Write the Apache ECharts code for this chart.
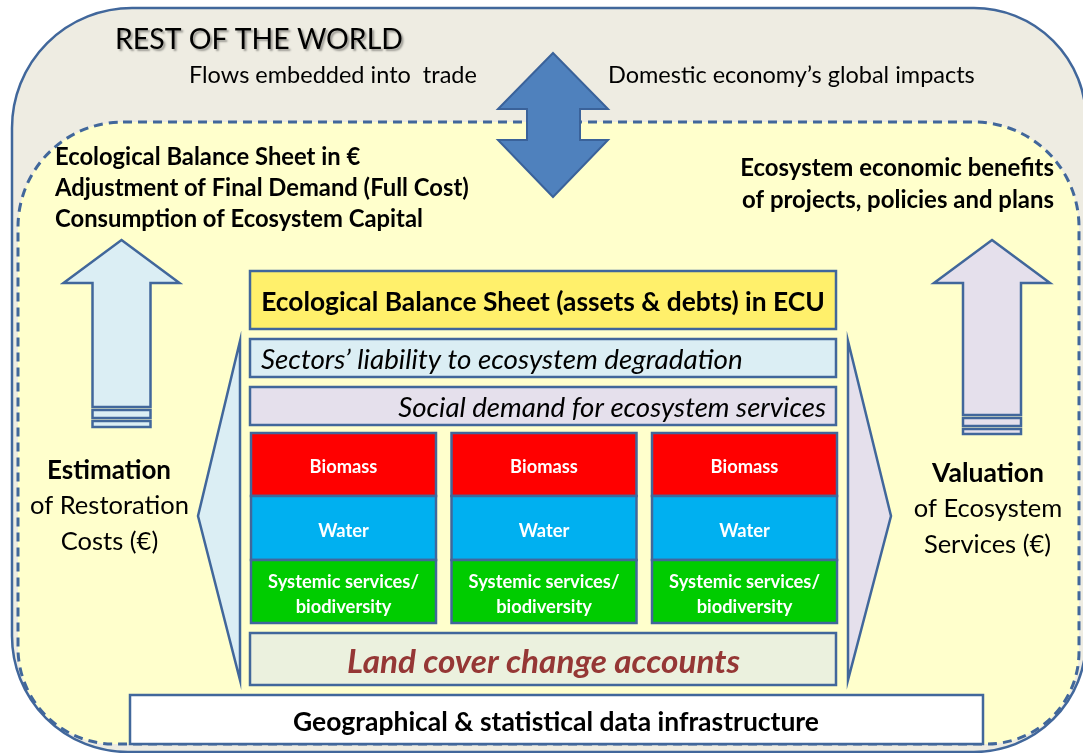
<!DOCTYPE html>
<html><head><meta charset="utf-8">
<script src="https://cdn.jsdelivr.net/npm/echarts@6/dist/echarts.min.js"></script>
<style>html,body{margin:0;padding:0;background:#fff}#c{width:1083px;height:753px}</style>
</head><body><div id="c"></div>
<script>
// ---- content (text) ----
const worldTitle = 'REST OF THE WORLD';
const tradeFlows = ['Flows embedded into  trade', 'Domestic economy\u2019s global impacts'];
const monetaryOutputs = ['Ecological Balance Sheet in \u20ac', 'Adjustment of Final Demand (Full Cost)', 'Consumption of Ecosystem Capital'];
const benefitOutputs = ['Ecosystem economic benefits', 'of projects, policies and plans'];
const restorationLabel = ['Estimation', 'of Restoration', 'Costs (\u20ac)'];
const valuationLabel = ['Valuation', 'of Ecosystem', 'Services (\u20ac)'];
const balanceLayers = ['Ecological Balance Sheet (assets & debts) in ECU', 'Sectors\u2019 liability to ecosystem degradation', 'Social demand for ecosystem services'];
const accountColumns = ['A', 'B', 'C'];
const accountRows = [['Biomass'], ['Water'], ['Systemic services/', 'biodiversity']];
const baseLayers = ['Land cover change accounts', 'Geographical & statistical data infrastructure'];

// ---- layout & style ----
const FONT = 'Lato';
const TEXT_DY = 2;
const C = {
  line: '#41679B', outer: '#EEECE2', inner: '#FFFFCC', arrow: '#4F81BD', arrowLine: '#3A629A',
  yellow: '#FFF06B', blue: '#DBEEF4', lav: '#E5E0EC', land: '#EBF1DE', landText: '#953735',
  cells: ['#FF0000', '#00B0F0', '#00CC00']
};
const ctx = document.createElement('canvas').getContext('2d');
function fit(text, width, weight, style) {
  ctx.font = (style || 'normal') + ' ' + (weight || 'normal') + ' 100px ' + FONT;
  return 100 * width / ctx.measureText(text).width;
}

function renderItem(params, api) {
  const P = (x, y) => api.coord([x, y]);
  const R = (x, y, w, h) => { const a = P(x, y), b = P(x + w, y + h); return { x: a[0], y: a[1], width: b[0] - a[0], height: b[1] - a[1] }; };
  const poly = pts => pts.map(p => P(p[0], p[1]));
  const out = [];
  const T = (s, x, y, size, o) => {
    o = o || {};
    const p = P(x, y + TEXT_DY);
    out.push({ type: 'text', style: Object.assign({
      text: s, x: p[0], y: p[1], fontSize: size, fontFamily: FONT,
      fontWeight: o.weight || 'normal', fontStyle: o.style || 'normal',
      fill: o.fill || '#000', align: o.align || 'left', verticalAlign: 'middle'
    }, o.extra || {}) });
  };
  const box = (x, y, w, h, fill, lw) => out.push({ type: 'rect', shape: R(x, y, w, h), style: { fill: fill, stroke: C.line, lineWidth: lw || 2.5 } });

  // outer world frame
  const o = R(12, 8, 1074, 744);
  out.push({ type: 'rect', shape: Object.assign(o, { r: [120, 112, 112, 116] }), style: { fill: C.outer, stroke: C.line, lineWidth: 2.5 } });
  // inner domestic frame (dashed)
  const i = R(18, 122, 1061, 622);
  out.push({ type: 'rect', shape: Object.assign(i, { r: [105, 105, 92, 96] }), style: { fill: C.inner, stroke: C.line, lineWidth: 3, lineDash: [9, 6] } });

  // title
  T(worldTitle, 115, 38, fit(worldTitle, 288), { extra: { textShadowColor: 'rgba(0,0,0,0.35)', textShadowBlur: 2, textShadowOffsetX: 2, textShadowOffsetY: 2 } });
  T(tradeFlows[0], 189, 73, fit(tradeFlows[0], 288));
  T(tradeFlows[1], 608, 73, fit(tradeFlows[1], 367));

  // double arrow
  out.push({ type: 'polygon', shape: { points: poly([[553, 53], [608, 109], [580, 109], [580, 140], [608, 140], [553, 197], [498, 140], [527, 140], [527, 109], [498, 109]]) },
    style: { fill: C.arrow, stroke: C.arrowLine, lineWidth: 2 } });

  // left outputs
  const sL = fit(monetaryOutputs[1], 414, 'bold');
  monetaryOutputs.forEach((s, k) => T(s, 55, 155 + k * 31, sL, { weight: 'bold' }));
  const sR = fit(benefitOutputs[1], 312, 'bold');
  benefitOutputs.forEach((s, k) => T(s, 1054, 166 + k * 32, sR, { weight: 'bold', align: 'right' }));

  // up arrows
  const upArrow = (cx, top, shaftBot, s1, s2, fill) => {
    out.push({ type: 'polygon', shape: { points: poly([[cx, top], [cx + 58, top + 43], [cx + 29, top + 43], [cx + 29, shaftBot], [cx - 29, shaftBot], [cx - 29, top + 43], [cx - 58, top + 43]]) },
      style: { fill: fill, stroke: C.line, lineWidth: 2.5 } });
    out.push({ type: 'rect', shape: R(cx - 29, s1[0], 58, s1[1] - s1[0]), style: { fill: fill, stroke: C.line, lineWidth: 2.5 } });
    out.push({ type: 'rect', shape: R(cx - 29, s2[0], 58, s2[1] - s2[0]), style: { fill: fill, stroke: C.line, lineWidth: 2.5 } });
  };
  upArrow(121.5, 240, 407, [410, 418], [421, 427], C.blue);
  upArrow(992, 240, 415, [418, 426], [429, 434], C.lav);

  // method texts
  T(restorationLabel[0], 109, 469, fit(restorationLabel[0], 124, 'bold'), { weight: 'bold', align: 'center' });
  const sM = fit(restorationLabel[1], 159);
  T(restorationLabel[1], 109.5, 504, sM, { align: 'center' });
  T(restorationLabel[2], 109.5, 540, sM, { align: 'center' });
  T(valuationLabel[0], 988, 471, fit(valuationLabel[0], 112, 'bold'), { weight: 'bold', align: 'center' });
  T(valuationLabel[1], 988, 507, sM, { align: 'center' });
  T(valuationLabel[2], 987.5, 543, sM, { align: 'center' });

  // side callouts
  out.push({ type: 'polygon', shape: { points: poly([[240, 341], [198, 516], [240, 680]]) }, style: { fill: C.blue, stroke: C.line, lineWidth: 2.5 } });
  out.push({ type: 'polygon', shape: { points: poly([[848, 341], [891, 516], [848, 680]]) }, style: { fill: C.lav, stroke: C.line, lineWidth: 2.5 } });

  // balance layers
  box(250, 271, 586, 58, C.yellow);
  T(balanceLayers[0], 543, 300, fit(balanceLayers[0], 564, 'bold'), { weight: 'bold', align: 'center' });
  box(250, 339, 586, 38, C.blue);
  T(balanceLayers[1], 261, 358, fit(balanceLayers[1], 482, 'normal', 'italic'), { style: 'italic' });
  box(250, 387, 586, 38, C.lav);
  T(balanceLayers[2], 826, 406, fit(balanceLayers[2], 428, 'normal', 'italic'), { style: 'italic', align: 'right' });

  // account columns
  const rowY = [433, 496, 560, 623];
  const sC = fit(accountRows[2][0], 151, 'bold');
  accountColumns.forEach((c, ci) => {
    const x0 = 251 + ci * 200.5, w = 185;
    accountRows.forEach((lines, ri) => {
      box(x0, rowY[ri], w, rowY[ri + 1] - rowY[ri], C.cells[ri]);
      const cy = (rowY[ri] + rowY[ri + 1]) / 2;
      lines.forEach((s, li) => T(s, x0 + w / 2, cy + 1 + (li - (lines.length - 1) / 2) * 25, sC, { weight: 'bold', fill: '#fff', align: 'center' }));
    });
  });

  // base layers
  box(250, 633, 586, 52, C.land);
  T(baseLayers[0], 543.5, 660, fit(baseLayers[0], 393, 'bold', 'italic'), { weight: 'bold', style: 'italic', fill: C.landText, align: 'center' });
  box(130, 695, 853, 49, '#FFFFFF');
  T(baseLayers[1], 556, 720, fit(baseLayers[1], 526, 'bold'), { weight: 'bold', align: 'center' });

  return { type: 'group', children: out };
}

const chart = echarts.init(document.getElementById('c'));
chart.setOption({
  animation: false,
  grid: { left: 0, right: 0, top: 0, bottom: 0 },
  xAxis: { type: 'value', min: 0, max: 1083, show: false },
  yAxis: { type: 'value', min: 0, max: 753, inverse: true, show: false },
  series: [{ type: 'custom', data: [[0, 0]], renderItem: renderItem, silent: true, clip: false }]
});
</script></body></html>
